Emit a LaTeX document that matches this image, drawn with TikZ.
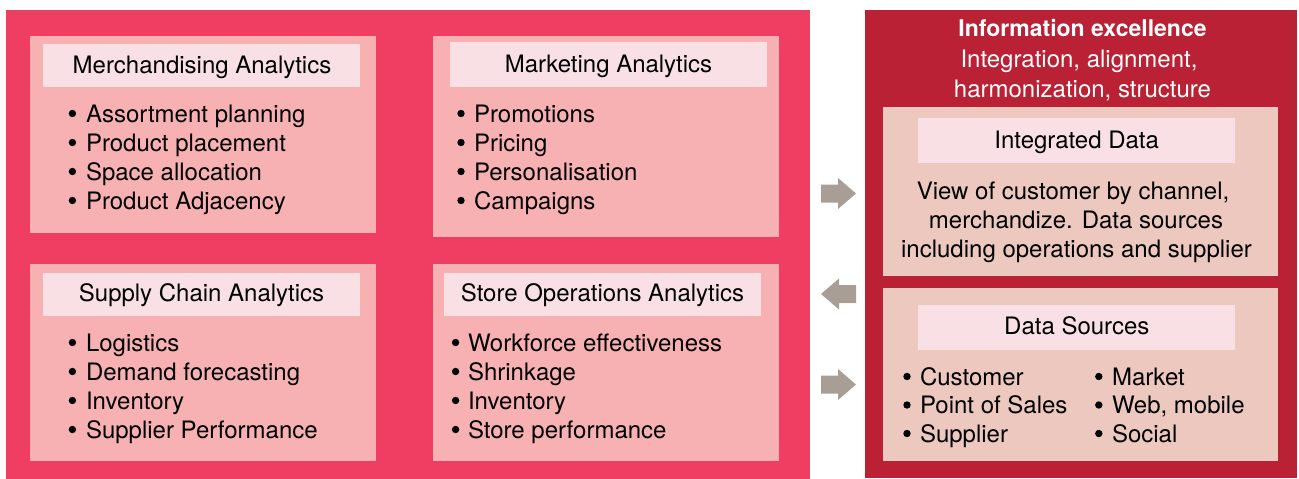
\documentclass[tikz,border=0pt]{standalone}
\usepackage{fontspec}
\setmainfont{TeX Gyre Heros}
\definecolor{leftbg}{HTML}{EF3E62}
\definecolor{boxfill}{HTML}{F7B1B2}
\definecolor{titlefill}{HTML}{F8E0E4}
\definecolor{rightbg}{HTML}{BA2134}
\definecolor{rbox}{HTML}{ECC8BF}
\definecolor{arrowgray}{HTML}{A89E95}
\begin{document}
\begin{tikzpicture}[x=1pt,y=-1pt,
  panel/.style={anchor=north west, inner sep=0pt, outer sep=0pt, draw=none},
  txt/.style={inner sep=0pt, outer sep=0pt, font=\fontsize{24}{29}\selectfont, text=black},
  head/.style={inner sep=0pt, outer sep=0pt, font=\fontsize{24}{29}\selectfont, text=white},
  dot/.style={circle, fill=black, draw=none, inner sep=0pt, outer sep=0pt, minimum size=7.4pt},
  blockarrow/.style={fill=arrowgray, draw=none}]
\useasboundingbox (0,0) rectangle (1299,479);
% backgrounds
\node[panel, fill=leftbg, minimum width=804pt, minimum height=469pt] (left) at (6,10) {};
\node[panel, fill=rightbg, minimum width=432pt, minimum height=468pt] (right) at (865,10) {};
% analytics boxes
\node[panel, fill=boxfill, minimum width=346pt, minimum height=197pt] (merch) at (30,36) {};
\node[panel, fill=boxfill, minimum width=346pt, minimum height=201pt] (mkt) at (433,36) {};
\node[panel, fill=boxfill, minimum width=346pt, minimum height=197pt] (supply) at (30,264) {};
\node[panel, fill=boxfill, minimum width=346pt, minimum height=197pt] (store) at (433,264) {};
% title boxes
\node[panel, fill=titlefill, minimum width=317pt, minimum height=43pt] (merchT) at (43,44) {};
\node[panel, fill=titlefill, minimum width=317pt, minimum height=45pt] (mktT) at (450,42) {};
\node[panel, fill=titlefill, minimum width=317pt, minimum height=43pt] (supplyT) at (43,273) {};
\node[panel, fill=titlefill, minimum width=317pt, minimum height=43pt] (storeT) at (444,273) {};
\node[txt, anchor=base] (merchTt) at (202,73.3) {Merchandising Analytics};
\node[txt, anchor=base] (mktTt) at (608.5,72) {Marketing Analytics};
\node[txt, anchor=base] (supplyTt) at (201.5,301.7) {Supply Chain Analytics};
\node[txt, anchor=base] (storeTt) at (602.5,301.7) {Store Operations Analytics};
% bullet lists
\foreach \t [count=\i] in {Assortment planning, Product placement, Space allocation, Product Adjacency} {
  \node[dot] (mb\i) at (72.4,84.5+29*\i) {};
  \node[txt, anchor=base west] (mt\i) at (86,93+29*\i) {\t};
}
\foreach \t [count=\i] in {Promotions, Pricing, Personalisation, Campaigns} {
  \node[dot] (kb\i) at (461,84.5+29*\i) {};
  \node[txt, anchor=base west] (kt\i) at (474,93+29*\i) {\t};
}
\foreach \t [count=\i] in {Logistics, Demand forecasting, Inventory, Supplier Performance} {
  \node[dot] (sb\i) at (72.4,313.5+29*\i) {};
  \node[txt, anchor=base west] (st\i) at (86,322+29*\i) {\t};
}
\foreach \t [count=\i] in {Workforce effectiveness, Shrinkage, Inventory, Store performance} {
  \node[dot] (ob\i) at (455.6,313.5+29*\i) {};
  \node[txt, anchor=base west] (ot\i) at (468,322+29*\i) {\t};
}
% right panel heading
\node[head, anchor=base, font=\fontsize{23}{29}\selectfont\bfseries] (h1) at (1082.5,36) {Information excellence};
\node[head, anchor=base] (h2) at (1079,67) {Integration, alignment,};
\node[head, anchor=base] (h3) at (1082.5,97) {harmonization, structure};
% right boxes
\node[panel, fill=rbox, minimum width=395pt, minimum height=169pt] (integ) at (883,107) {};
\node[panel, fill=rbox, minimum width=395pt, minimum height=173pt] (dsrc) at (883,288) {};
\node[panel, fill=titlefill, minimum width=317pt, minimum height=45pt] (integT) at (918,118) {};
\node[panel, fill=titlefill, minimum width=317pt, minimum height=45pt] (dsrcT) at (918,305) {};
\node[txt, anchor=base] (integTt) at (1076.7,148.3) {Integrated Data};
\node[txt, anchor=base] (dsrcTt) at (1076.8,334.3) {Data Sources};
\node[txt, anchor=base] (p1) at (1073,199) {View of customer by channel,};
\node[txt, anchor=base] (p2) at (1076,228) {merchandize. Data sources};
\node[txt, anchor=base] (p3) at (1076.5,257) {including operations and supplier};
\foreach \t [count=\i] in {Customer, Point of Sales, Supplier} {
  \node[dot] (db\i) at (907,348+28.5*\i) {};
  \node[txt, anchor=base west] (dt\i) at (920,356.5+28.5*\i) {\t};
}
\foreach \t [count=\i] in {Market, {Web, mobile}, Social} {
  \node[dot] (eb\i) at (1098.8,348+28.5*\i) {};
  \node[txt, anchor=base west] (et\i) at (1112,356.5+28.5*\i) {\t};
}
% block arrows
\fill[blockarrow] (821,184.5) -- (838,184.5) -- (838,178) -- (856,193.5) -- (838,209) -- (838,202.5) -- (821,202.5) -- cycle;
\fill[blockarrow] (856,285) -- (839,285) -- (839,278.5) -- (821,294) -- (839,309.5) -- (839,303) -- (856,303) -- cycle;
\fill[blockarrow] (821,375.5) -- (838,375.5) -- (838,369) -- (856,384.5) -- (838,400) -- (838,393.5) -- (821,393.5) -- cycle;
\end{tikzpicture}
\end{document}
